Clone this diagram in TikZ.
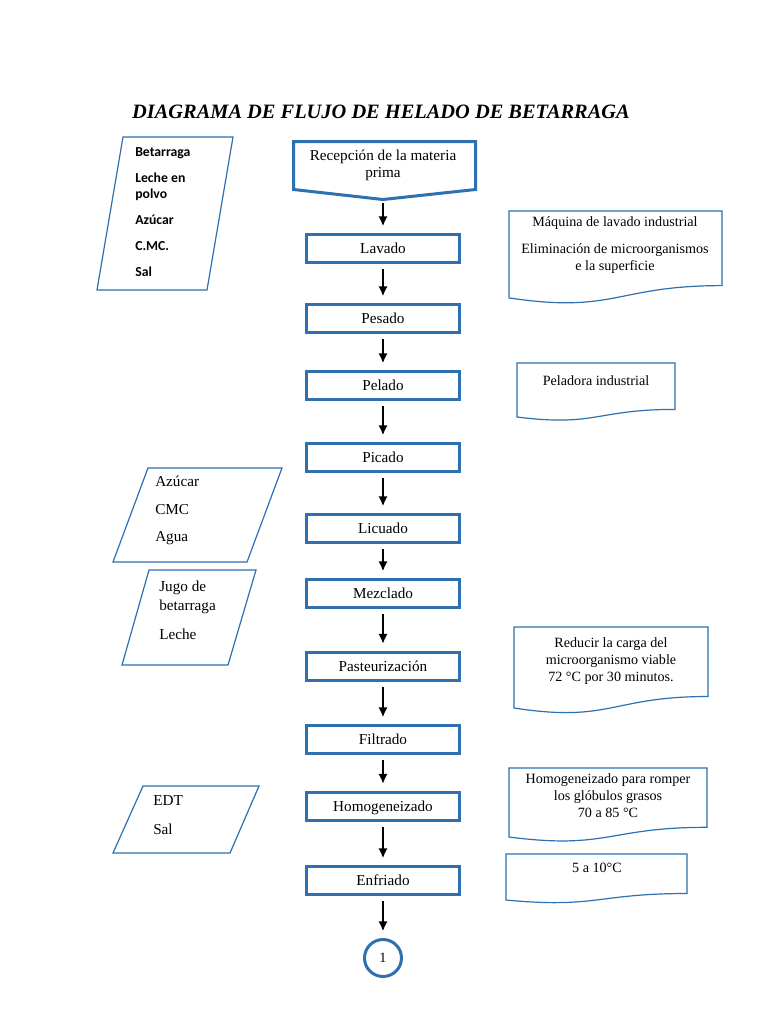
\documentclass[tikz,border=0pt]{standalone}
\usepackage{fontspec}
\setmainfont{Liberation Serif}
\newfontfamily\calibri{Carlito}
\usetikzlibrary{arrows.meta}
\definecolor{flowblue}{RGB}{46,112,176}

\begin{document}
\begin{tikzpicture}[x=0.75pt,y=-0.75pt,>={Latex[length=7.5pt,width=7pt]},
  proc node/.style={draw=flowblue,line width=2.25pt,minimum width=114.75pt,
    minimum height=21pt,inner sep=0pt,text height=9.5pt,text depth=1.3pt,
    font=\fontsize{11.4}{13}\selectfont},
  thin shape/.style={draw=flowblue,line width=0.9pt},
  note text/.style={anchor=base,align=center,inner sep=0pt,
    font=\fontsize{10.6}{12.4}\selectfont},
  input text/.style={anchor=base west,align=left,inner sep=0pt,
    font=\fontsize{11.4}{12.75}\selectfont}]

 \path[use as bounding box,fill=white] (0,0) rectangle (768,1024);

 \node[anchor=base,inner sep=0pt,font=\bfseries\itshape\fontsize{15.3}{18}\selectfont]
   (titulo) at (381,118) {DIAGRAMA DE FLUJO DE HELADO DE BETARRAGA};

 % recepcion
 \draw[draw=flowblue,line width=2.25pt,line join=miter]
   (293.5,141.5) -- (475.5,141.5) -- (475.5,189.5) -- (383,199.5) -- (293.5,189.5) -- cycle;
 \node[anchor=base,align=center,inner sep=0pt,font=\fontsize{11.4}{12.75}\selectfont]
   (recep) at (383,177.5) {Recepción de la materia\\prima};
 \coordinate (recep tip) at (383,201);

 % proceso
 \node[proc node] (lavado) at (383,248.5) {Lavado};
 \node[proc node] (pesado) at (383,318.5) {Pesado};
 \node[proc node] (pelado) at (383,385.5) {Pelado};
 \node[proc node] (picado) at (383,457.5) {Picado};
 \node[proc node] (licuado) at (383,528.5) {Licuado};
 \node[proc node] (mezclado) at (383,593.5) {Mezclado};
 \node[proc node] (pasteur) at (383,666) {Pasteurización};
 \node[proc node] (filtrado) at (383,739.5) {Filtrado};
 \node[proc node] (homog) at (383,806) {Homogeneizado};
 \node[proc node] (enfriado) at (383,880.5) {Enfriado};
 \node[circle,draw=flowblue,line width=2.25pt,minimum size=27.75pt,inner sep=0pt,
   font=\fontsize{10.6}{12}\selectfont] (uno) at (383,958) {1};

 \path[->,line width=1.5pt,shorten <=4pt,shorten >=5pt]
    (recep tip) edge [shorten <=1.5pt] (lavado)
    (lavado)   edge (pesado)
    (pesado)   edge (pelado)
    (pelado)   edge (picado)
    (picado)   edge (licuado)
    (licuado)  edge (mezclado)
    (mezclado) edge (pasteur)
    (pasteur)  edge (filtrado)
    (filtrado) edge (homog)
    (homog)    edge (enfriado)
    (enfriado) edge (uno);

 % insumos
 \draw[thin shape] (123,137) -- (233,137) -- (207,290) -- (97,290) -- cycle;
 \node[input text,font=\calibri\bfseries\fontsize{10.3}{12}\selectfont]
   (insumos) at (135,276) {Betarraga\\[7.5pt]Leche en\\polvo\\[7.5pt]Azúcar\\[8pt]C.MC.\\[7pt]Sal};

 \draw[thin shape] (148,468) -- (282,468) -- (247,562) -- (113,562) -- cycle;
 \node[input text] (aditivos) at (155,541) {Azúcar\\[8.25pt]CMC\\[7.5pt]Agua};

 \draw[thin shape] (149,570) -- (256,570) -- (228,665) -- (122,665) -- cycle;
 \node[input text] (jugo) at (159,639) {Jugo de\\[1.1pt]betarraga\\[9pt]Leche};

 \draw[thin shape] (143,786) -- (259,786) -- (230,853) -- (113,853) -- cycle;
 \node[input text] (edt) at (153,834) {EDT\\[9pt]Sal};

 % notas
 \draw[thin shape] (509,211) -- (722,211) -- (722,285.6)
   .. controls (615.5,285.6) and (615.5,313.9) .. (509,297.9) -- cycle;
 \node[note text] (maquina) at (615,270.5)
   {Máquina de lavado industrial\\[8.25pt]Eliminación de microorganismos\\e la superficie};

 \draw[thin shape] (517,363) -- (675,363) -- (675,409.4)
   .. controls (596,409.4) and (596,427) .. (517,417) -- cycle;
 \node[note text] (peladora) at (596,385) {Peladora industrial};

 \draw[thin shape] (514,627) -- (708,627) -- (708,696.5)
   .. controls (611,696.5) and (611,723) .. (514,708) -- cycle;
 \node[note text] (reducir) at (611,681)
   {Reducir la carga del\\microorganismo viable\\72 °C por 30 minutos.};

 \draw[thin shape] (509,768) -- (707,768) -- (707,827.3)
   .. controls (608,827.3) and (608,849.8) .. (509,837) -- cycle;
 \node[note text] (romper) at (608,817)
   {Homogeneizado para romper\\los glóbulos grasos\\70 a 85 °C};

 \draw[thin shape] (506,854) -- (687,854) -- (687,893.5)
   .. controls (596.5,893.5) and (596.5,908.6) .. (506,900) -- cycle;
 \node[note text] (temp) at (597,872) {5 a 10°C};

\end{tikzpicture}
\end{document}
